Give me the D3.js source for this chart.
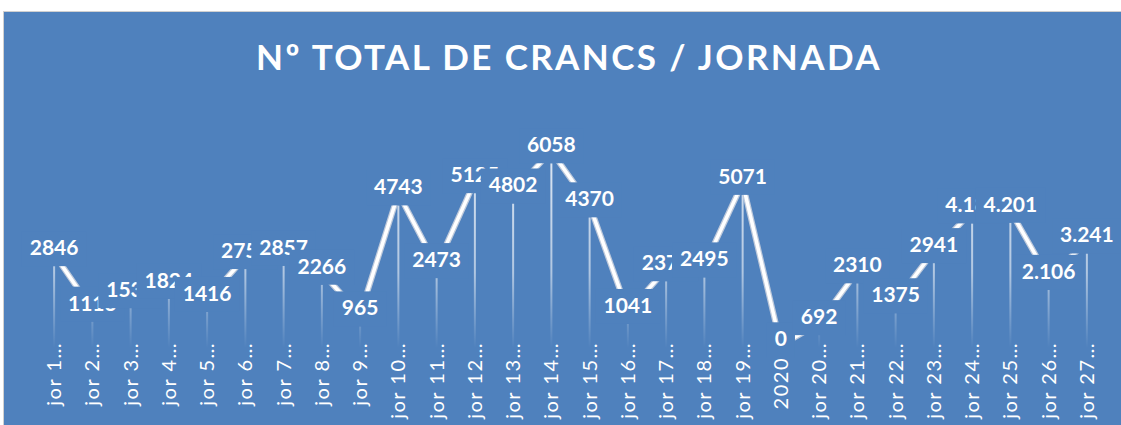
<!DOCTYPE html>
<html lang="en">
<head>
    <meta charset="UTF-8">
    <title>Nº total de crancs / jornada</title>
    <script type="text/javascript" src="https://cdn.jsdelivr.net/npm/d3@7/dist/d3.min.js"></script>
    <style type="text/css">
        body { margin: 0; background: #ffffff; }
        svg { display: block; }
    </style>
</head>
<body>
    <script type="text/javascript">
        //Width and height
        var w = 1121;
        var h = 425;

        var title = "Nº TOTAL DE CRANCS / JORNADA";

        //Category labels as shown (truncated)
        var categories = [
            "jor 1…", "jor 2…", "jor 3…", "jor 4…", "jor 5…", "jor 6…", "jor 7…",
            "jor 8…", "jor 9…", "jor 10…", "jor 11…", "jor 12…", "jor 13…", "jor 14…",
            "jor 15…", "jor 16…", "jor 17…", "jor 18…", "jor 19…", "2020", "jor 20…",
            "jor 21…", "jor 22…", "jor 23…", "jor 24…", "jor 25…", "jor 26…", "jor 27…"
        ];

        //Crancs per jornada
        var values = [
            2846, 1113, 1535, 1824, 1416, 2755, 2857,
            2266, 965, 4743, 2473, 5125, 4802, 6058,
            4370, 1041, 2375, 2495, 5071, 0, 692,
            2310, 1375, 2941, 4180, 4201, 2106, 3241
        ];

        //from this index on the labels use a dot as thousands separator
        var dottedFrom = 24;

        var yDomain = [0, 7000];

        var blue = "#4f81bd";

        var svg = d3.select("body")
            .append("svg")
            .attr("width", w)
            .attr("height", h);

        //chart area
        svg.append("rect")
            .attr("x", 3.5)
            .attr("y", 11.5)
            .attr("width", w)
            .attr("height", h)
            .attr("fill", blue)
            .attr("stroke", "#d0d0d0");

        svg.append("text")
            .text(title)
            .attr("x", 569)
            .attr("y", 70)
            .attr("text-anchor", "middle")
            .attr("font-family", "Lato, sans-serif")
            .attr("font-weight", "bold")
            .attr("font-size", "35px")
            .attr("letter-spacing", "2.4px")
            .attr("fill", "#ffffff");

        //Scales
        var xScale = d3.scaleBand()
            .domain(categories)
            .range([35, 1106]);

        var base = 357.3;
        var pxPerUnit = 0.03203;

        var yScale = d3.scaleLinear()
            .domain(yDomain)
            .range([base, base - yDomain[1] * pxPerUnit]);

        //the 3D ribbon sits a bit higher than the drop lines
        var ribbonY = d3.scaleLinear()
            .domain(yDomain)
            .range([base - 12, base - 12 - yDomain[1] * pxPerUnit]);

        function cx(d, i) { return xScale(categories[i]) + xScale.bandwidth() / 2; }

        //drop line gradient
        var defs = svg.append("defs");
        var grad = defs.append("linearGradient")
            .attr("id", "drop")
            .attr("gradientUnits", "userSpaceOnUse")
            .attr("x1", 0).attr("x2", 0)
            .attr("y1", 160).attr("y2", 348);
        grad.append("stop").attr("offset", "0").attr("stop-color", "#fff").attr("stop-opacity", 0.8);
        grad.append("stop").attr("offset", "0.6").attr("stop-color", "#fff").attr("stop-opacity", 0.55);
        grad.append("stop").attr("offset", "1").attr("stop-color", "#fff").attr("stop-opacity", 0);

        svg.selectAll("rect.drop")
            .data(values)
            .enter()
            .append("rect")
            .attr("class", "drop")
            .attr("x", function(d, i) { return cx(d, i) - 1; })
            .attr("y", function(d) { return yScale(d); })
            .attr("width", 2)
            .attr("height", function(d) { return Math.max(0, 348 - yScale(d)); })
            .attr("fill", "url(#drop)");

        //Line
        var line = d3.line()
            .x(function(d, i) { return cx(d, i); })
            .y(function(d) { return ribbonY(d); });

        svg.append("path")
            .datum(values)
            .attr("d", line)
            .attr("fill", "none")
            .attr("stroke", "#bfcadb")
            .attr("stroke-width", 6)
            .attr("stroke-linejoin", "round");

        svg.append("path")
            .datum(values)
            .attr("d", line)
            .attr("fill", "none")
            .attr("stroke", "#ffffff")
            .attr("stroke-width", 3.5)
            .attr("stroke-linejoin", "round");

        //Data labels with a blue box behind
        function fmt(d, i) {
            if (i >= dottedFrom) {
                return d3.format(",")(d).replace(/,/g, ".");
            }
            return String(d);
        }

        var labels = svg.selectAll("g.lab")
            .data(values)
            .enter()
            .append("g")
            .attr("class", "lab");

        labels.append("rect");
        labels.append("text")
            .text(function(d, i) { return fmt(d, i); })
            .attr("x", function(d, i) { return cx(d, i); })
            .attr("y", function(d) { return yScale(d) - 11; })
            .attr("text-anchor", "middle")
            .attr("font-family", "Lato, sans-serif")
            .attr("font-weight", "bold")
            .attr("font-size", "21px")
            .attr("fill", "#ffffff");

        labels.each(function(d, i) {
            var g = d3.select(this);
            var tw = g.select("text").node().getComputedTextLength();
            g.select("rect")
                .attr("x", cx(d, i) - tw / 2 - 8)
                .attr("y", yScale(d) - 35)
                .attr("width", tw + 16)
                .attr("height", 35)
                .attr("fill", blue);
        });

        //Category axis
        var xAxis = d3.axisBottom(xScale).tickSize(0);
        var ax = svg.append("g")
            .attr("transform", "translate(0,342)")
            .call(xAxis);
        ax.select(".domain").remove();
        ax.selectAll("text")
            .attr("transform", "rotate(-90)")
            .attr("x", function(d) { return d.indexOf("…") < 0 ? -15 : 0; })
            .attr("y", 0)
            .attr("dy", "0.35em")
            .attr("text-anchor", "end")
            .attr("font-family", "Lato, sans-serif")
            .attr("font-size", "20px")
            .attr("letter-spacing", "1.5px")
            .attr("fill", "#ffffff");
    </script>
</body>
</html>
